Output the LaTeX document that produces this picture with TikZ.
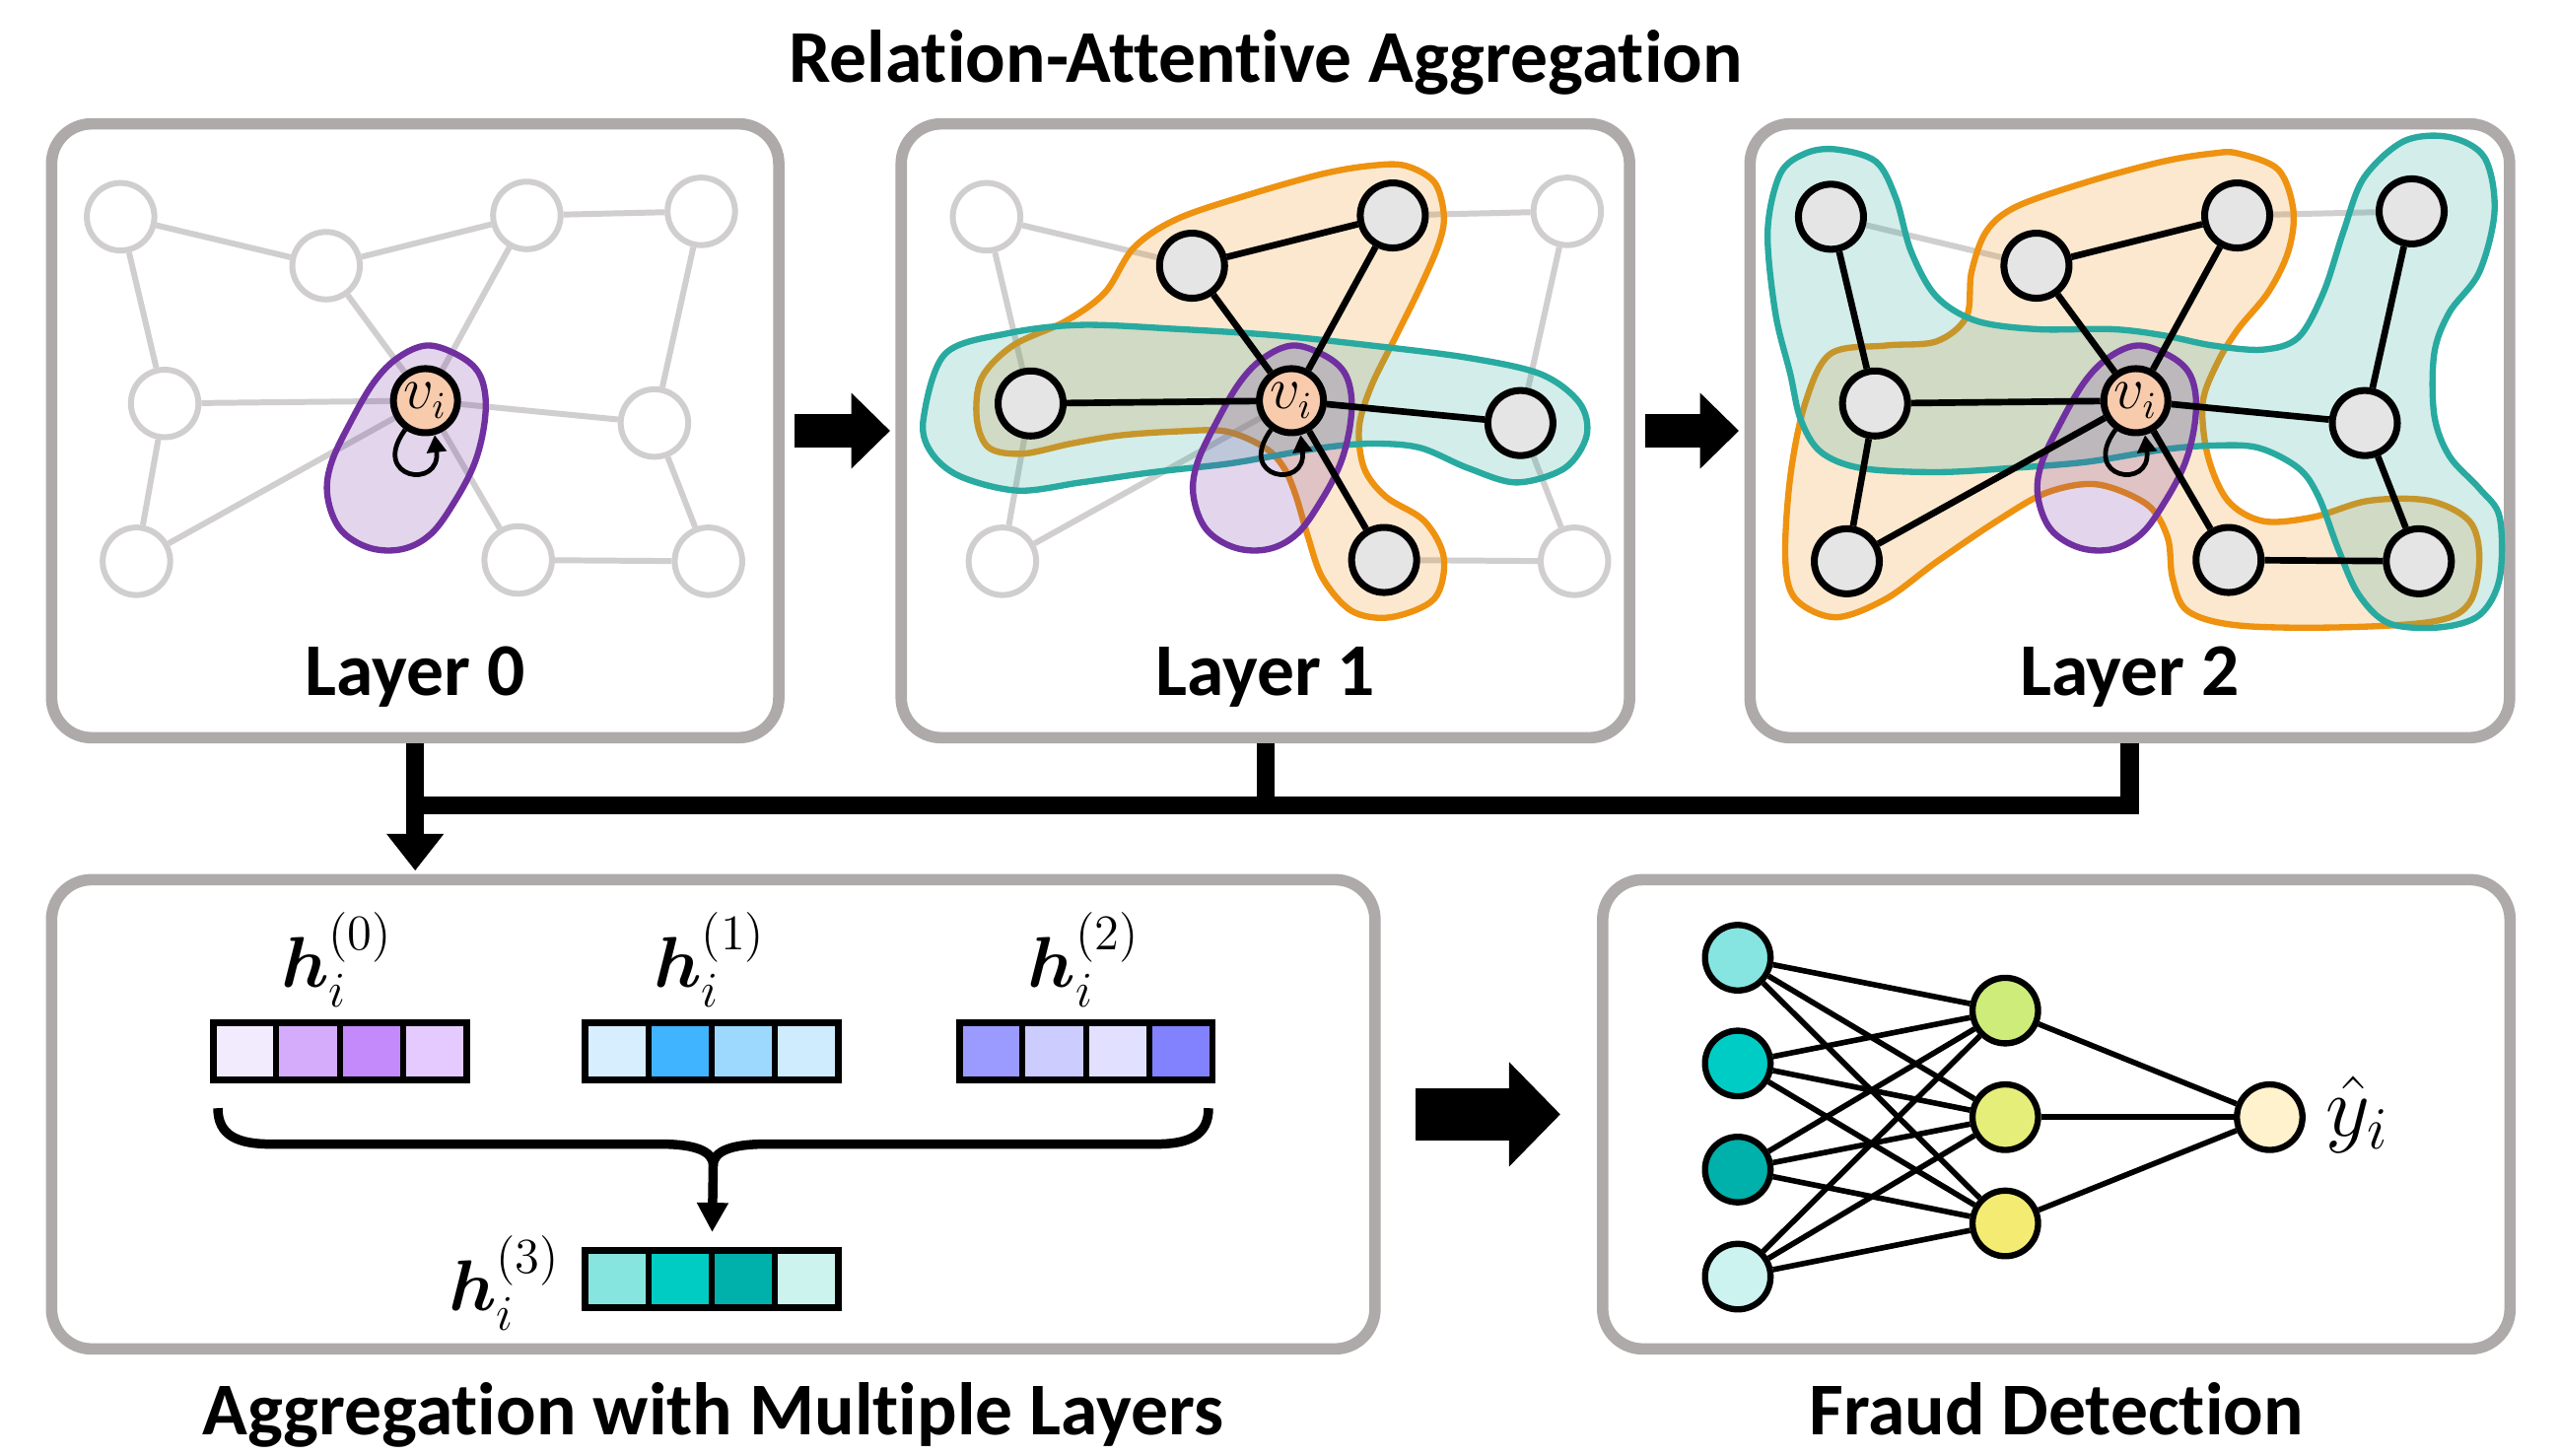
\documentclass[tikz,border=0pt]{standalone}
\usepackage[no-math]{fontspec}
\usepackage{amsmath}
\newfontfamily\headfont[Ligatures=NoCommon]{Carlito}
\usetikzlibrary{arrows.meta,calc}

\pgfdeclarelayer{back}
\pgfdeclarelayer{grayedges}
\pgfdeclarelayer{blobs}
\pgfdeclarelayer{blackedges}
\pgfsetlayers{back,grayedges,blobs,blackedges,main}

\definecolor{panelgray}{RGB}{174,170,170}
\definecolor{lightgr}{RGB}{208,206,206}
\definecolor{nodegray}{RGB}{229,229,229}
\definecolor{peach}{RGB}{248,203,173}
\definecolor{purpleline}{RGB}{112,48,160}
\definecolor{orangeline}{RGB}{238,146,16}
\definecolor{orangefill}{RGB}{240,154,40}
\definecolor{tealline}{RGB}{40,170,160}
\definecolor{tealfill}{RGB}{38,166,154}
% feature vector cells
\definecolor{ha1}{RGB}{242,235,253}\definecolor{ha2}{RGB}{213,171,251}
\definecolor{ha3}{RGB}{196,137,251}\definecolor{ha4}{RGB}{228,202,254}
\definecolor{hb1}{RGB}{214,238,253}\definecolor{hb2}{RGB}{64,180,255}
\definecolor{hb3}{RGB}{157,216,255}\definecolor{hb4}{RGB}{207,235,254}
\definecolor{hc1}{RGB}{155,155,255}\definecolor{hc2}{RGB}{204,204,255}
\definecolor{hc3}{RGB}{225,225,255}\definecolor{hc4}{RGB}{130,130,255}
\definecolor{hd1}{RGB}{135,229,224}\definecolor{hd2}{RGB}{0,204,196}
\definecolor{hd3}{RGB}{0,176,170}\definecolor{hd4}{RGB}{205,243,239}
% classifier neurons
\definecolor{in1}{RGB}{134,229,224}\definecolor{in2}{RGB}{0,204,198}
\definecolor{in3}{RGB}{0,176,170}\definecolor{in4}{RGB}{205,243,240}
\definecolor{hid1}{RGB}{205,236,122}\definecolor{hid2}{RGB}{230,238,122}
\definecolor{hid3}{RGB}{244,236,114}\definecolor{outc}{RGB}{255,242,204}

% a feature vector: name, centre x, centre y, four cell colours
\newcommand\featvec[7]{%
  \node[vecbox] (#1) at (#2,#3) {};
  \begin{pgfonlayer}{blobs}
    \begin{scope}[shift={(#1.center)}]
      \fill[#4] (-77.6,-17.5) rectangle (-38.8,17.5);
      \fill[#5] (-38.8,-17.5) rectangle (0,17.5);
      \fill[#6] (0,-17.5) rectangle (38.8,17.5);
      \fill[#7] (38.8,-17.5) rectangle (77.6,17.5);
      \draw[vecline] (-38.8,-17.5) -- (-38.8,17.5) (0,-17.5) -- (0,17.5)
                     (38.8,-17.5) -- (38.8,17.5);
    \end{scope}
  \end{pgfonlayer}}

% the purple self-relation region around v_i
\newcommand\selfregion{%
  \draw[purpleblob] plot[smooth cycle, tension=0.6] coordinates {
    (261.3,211.7) (278.9,216.7) (292.1,226.7) (297.3,241.7) (296.5,261.7)
    (290.6,284.3) (278.9,306.8) (264.3,326.9) (246.7,336.4) (226.2,335.6)
    (208.6,324.4) (200.7,304.3) (202.8,284.3) (214.5,259.2) (229.1,234.2)
    (243.8,219.2)};}

\begin{document}
\begin{tikzpicture}[x=0.016556cm, y=-0.016556cm,
  panel/.style={draw=panelgray, line width=3.3pt, rounded corners=0.406cm,
    fill=white, inner sep=0, outer sep=0, minimum height=6.227cm},
  lowpanel/.style={panel, minimum height=4.760cm},
  headtext/.style={font=\headfont\bfseries\fontsize{21.5}{24}\selectfont,
    inner sep=0, anchor=base},
  gnode/.style={circle, draw=lightgr, line width=1.7pt, fill=white,
    minimum size=0.685cm, inner sep=0},
  bnode/.style={circle, draw=black, line width=2pt, fill=nodegray,
    minimum size=0.66cm, inner sep=0},
  vinode/.style={circle, draw=black, line width=2pt, fill=peach,
    minimum size=0.65cm, inner sep=0, font=\fontsize{16}{16}\selectfont},
  gedge/.style={draw=lightgr, line width=1.7pt},
  bedge/.style={draw=black, line width=1.9pt},
  selfloop/.style={draw=black, line width=1.35pt,
    -{Triangle[length=5pt,width=5.5pt]}},
  orangeblob/.style={draw=orangeline, line width=1.8pt, fill=orangefill,
    fill opacity=0.22},
  tealblob/.style={draw=tealline, line width=1.8pt, fill=tealfill,
    fill opacity=0.2},
  purpleblob/.style={draw=purpleline, line width=1.8pt, fill=purpleline,
    fill opacity=0.2},
  blockarr/.style={draw=black, line width=9.85pt,
    -{Triangle[length=11.2pt,width=21.2pt]}, shorten <=4.5pt, shorten >=3.2pt},
  bigarr/.style={draw=black, line width=14.9pt,
    -{Triangle[length=14.8pt,width=29.3pt]}, shorten <=11.7pt, shorten >=12.2pt},
  busline/.style={draw=black, line width=5.2pt, line join=miter},
  vecbox/.style={draw=black, line width=1.9pt, minimum width=2.5695cm,
    minimum height=0.5795cm, inner sep=0, outer sep=0},
  vecline/.style={draw=black, line width=1.7pt},
  veclabel/.style={font=\fontsize{20}{20}\selectfont, inner sep=0, anchor=base},
  bracestyle/.style={draw=black, line width=2.7pt},
  nnnode/.style={circle, draw=black, line width=1.8pt, minimum size=0.665cm,
    inner sep=0},
  nnedge/.style={draw=black, line width=1.6pt}]

\useasboundingbox (0,0) rectangle (1568,892);

% ---------- panels ----------
\begin{pgfonlayer}{back}
  \fill[white] (0,0) rectangle (1568,892);
  \node[panel, minimum width=7.377cm] (p1) at (254.4,263.95) {};
  \node[panel, minimum width=7.389cm] (p2) at (775.35,263.95) {};
  \node[panel, minimum width=7.705cm] (p3) at (1305,263.95) {};
  \node[lowpanel, minimum width=13.425cm] (p4) at (437.05,682.75) {};
  \node[lowpanel, minimum width=9.205cm] (p5) at (1260,682.75) {};
\end{pgfonlayer}

% ---------- titles ----------
\node[headtext] (title) at (775.5,50.3) {Relation-Attentive Aggregation};
\node[headtext] (lab0) at (254.4,426) {Layer 0};
\node[headtext] (lab1) at (775.35,426) {Layer 1};
\node[headtext] (lab2) at (1305,426) {Layer 2};
\node[headtext] (labagg) at (437,879) {Aggregation with Multiple Layers};
\node[headtext] (labfd) at (1260,879) {Fraud Detection};

% ---------- layer 0 ----------
\node[gnode] (A1) at (73.9,132.8) {};
\node[gnode] (B1) at (199.8,162.8) {};
\node[gnode] (C1) at (322.8,132.0) {};
\node[gnode] (D1) at (429.7,129.5) {};
\node[gnode] (E1) at (100.9,247.2) {};
\node[vinode] (V1) at (260.7,245.5) {$v_i$};
\node[gnode] (F1) at (401,259.2) {};
\node[gnode] (G1) at (83.6,343.9) {};
\node[gnode] (H1) at (317.5,343.1) {};
\node[gnode] (I1) at (434.1,343.9) {};
\begin{pgfonlayer}{grayedges}
  \draw[gedge] (A1) -- (B1) (B1) -- (C1) (C1) -- (D1) (A1) -- (E1)
    (B1) -- (V1) (C1) -- (V1) (D1) -- (F1) (E1) -- (V1) (E1) -- (G1)
    (G1) -- (V1) (V1) -- (F1) (V1) -- (H1) (F1) -- (I1) (H1) -- (I1);
\end{pgfonlayer}
\begin{pgfonlayer}{blobs}
  \selfregion
\end{pgfonlayer}
\draw[selfloop] (V1.235) .. controls +(-22,30) and +(4,34) .. (V1.-75);

% ---------- layer 1 ----------
\begin{scope}[shift={(530.6,0)}]
  \node[gnode] (A2) at (73.9,132.8) {};
  \node[bnode] (B2) at (199.8,162.8) {};
  \node[bnode] (C2) at (322.8,132.0) {};
  \node[gnode] (D2) at (429.7,129.5) {};
  \node[bnode] (E2) at (100.9,247.2) {};
  \node[vinode] (V2) at (260.7,245.5) {$v_i$};
  \node[bnode] (F2) at (401,259.2) {};
  \node[gnode] (G2) at (83.6,343.9) {};
  \node[bnode] (H2) at (317.5,343.1) {};
  \node[gnode] (I2) at (434.1,343.9) {};
\end{scope}
\begin{pgfonlayer}{grayedges}
  \draw[gedge] (A2) -- (B2) (A2) -- (E2) (C2) -- (D2) (D2) -- (F2)
    (E2) -- (G2) (G2) -- (V2) (F2) -- (I2) (H2) -- (I2);
\end{pgfonlayer}
\begin{pgfonlayer}{blobs}
  \draw[orangeblob] plot[smooth cycle, tension=0.55] coordinates {
    (861.0,101.5) (878.8,111.5) (884.7,131.5) (881.7,149.1) (869.9,176.6)
    (855.0,206.7) (840.2,236.7) (832.8,261.7) (835.8,286.8) (849.1,304.3)
    (872.8,319.3) (884.7,341.9) (878.8,366.9) (852.1,378.2) (828.3,374.4)
    (810.5,354.4) (801.6,329.4) (794.2,304.3) (786.8,286.8) (775.0,274.3)
    (751.2,264.3) (721.6,264.3) (686.0,266.8) (656.3,271.8) (626.6,278.0)
    (605.9,274.3) (598.5,256.7) (601.4,231.7) (620.7,211.7) (653.3,196.6)
    (677.1,179.1) (694.9,151.6) (721.6,134.0) (766.1,119.0) (810.5,106.5)
    (840.2,101.5)};
  \draw[tealblob] plot[smooth cycle, tension=0.55] coordinates {
    (565.8,256.7) (579.2,216.7) (617.8,204.2) (662.2,199.1) (721.6,201.6)
    (780.9,205.4) (840.2,211.7) (899.5,219.2) (944.0,229.2) (967.7,246.7)
    (972.2,266.8) (958.8,286.8) (929.2,295.6) (899.5,286.8) (869.9,274.3)
    (840.2,271.8) (810.5,274.3) (780.9,279.3) (751.2,284.3) (706.7,289.3)
    (662.2,295.6) (623.7,300.6) (588.1,291.8) (570.3,276.8)};
  \begin{scope}[shift={(530.6,0)}]
    \selfregion
  \end{scope}
\end{pgfonlayer}
\begin{pgfonlayer}{blackedges}
  \draw[bedge] (B2) -- (C2) (B2) -- (V2) (C2) -- (V2) (E2) -- (V2)
    (V2) -- (F2) (V2) -- (H2);
\end{pgfonlayer}
\draw[selfloop] (V2.235) .. controls +(-22,30) and +(4,34) .. (V2.-75);

% ---------- layer 2 ----------
\begin{scope}[shift={(1048,0)}]
  \node[bnode] (A3) at (73.9,132.8) {};
  \node[bnode] (B3) at (199.8,162.8) {};
  \node[bnode] (C3) at (322.8,132.0) {};
  \node[bnode] (D3) at (429.7,129.5) {};
  \node[bnode] (E3) at (100.9,247.2) {};
  \node[vinode] (V3) at (260.7,245.5) {$v_i$};
  \node[bnode] (F3) at (401,259.2) {};
  \node[bnode] (G3) at (83.6,343.9) {};
  \node[bnode] (H3) at (317.5,343.1) {};
  \node[bnode] (I3) at (434.1,343.9) {};
\end{scope}
\begin{pgfonlayer}{grayedges}
  \draw[gedge] (A3) -- (B3) (C3) -- (D3);
\end{pgfonlayer}
\begin{pgfonlayer}{blobs}
  \draw[orangeblob] plot[smooth cycle, tension=0.55] coordinates {
    (1371.3,94.0) (1396.0,104.0) (1405.2,129.0) (1402.1,154.1) (1389.8,179.1)
    (1371.3,201.7) (1359.0,221.7) (1349.7,246.7) (1352.8,279.3) (1365.1,306.8)
    (1386.7,319.3) (1417.5,316.8) (1451.4,306.8) (1488.4,306.8) (1513.1,319.3)
    (1519.2,341.9) (1513.1,369.4) (1491.5,380.7) (1432.9,384.4) (1371.3,383.2)
    (1340.5,374.4) (1331.2,354.4) (1328.2,329.4) (1315.8,309.3) (1285.0,296.8)
    (1254.2,301.8) (1223.4,319.3) (1186.4,344.4) (1155.6,366.9) (1124.7,378.2)
    (1100.1,366.9) (1093.9,341.9) (1097.0,291.8) (1106.2,246.7) (1121.7,216.7)
    (1155.6,211.7) (1186.4,209.2) (1204.9,194.1) (1208.0,166.6) (1217.2,141.6)
    (1235.7,126.5) (1278.8,111.5) (1325.1,99.0) (1355.9,94.0)};
  \draw[tealblob] plot[smooth cycle, tension=0.55] coordinates {
    (1124.7,91.5) (1149.4,99.0) (1161.7,121.5) (1171.0,154.1) (1186.4,181.6)
    (1211.0,196.6) (1248.0,201.7) (1294.3,201.7) (1325.1,205.4) (1355.9,211.7)
    (1386.7,214.2) (1408.3,206.7) (1423.7,179.1) (1436.0,141.6) (1448.4,109.0)
    (1473.0,86.5) (1500.8,84.0) (1522.3,96.5) (1528.5,129.0) (1519.2,166.6)
    (1500.7,191.6) (1491.5,216.7) (1491.5,254.2) (1500.7,279.3) (1519.2,299.3)
    (1531.6,316.8) (1531.6,354.4) (1519.2,376.9) (1494.6,384.4) (1463.8,381.9)
    (1445.3,364.4) (1432.9,336.9) (1420.6,304.3) (1408.3,286.8) (1383.6,274.3)
    (1355.9,273.0) (1325.1,275.5) (1278.8,283.0) (1232.6,286.8) (1186.4,289.3)
    (1140.2,286.8) (1115.5,276.8) (1103.2,256.7) (1097.0,229.2) (1087.8,191.6)
    (1083.1,141.6) (1090.8,106.5) (1106.2,94.0)};
  \begin{scope}[shift={(1048,0)}]
    \selfregion
  \end{scope}
\end{pgfonlayer}
\begin{pgfonlayer}{blackedges}
  \draw[bedge] (A3) -- (E3) (E3) -- (G3) (E3) -- (V3) (G3) -- (V3)
    (B3) -- (C3) (B3) -- (V3) (C3) -- (V3) (D3) -- (F3) (V3) -- (F3)
    (F3) -- (I3) (V3) -- (H3) (H3) -- (I3);
\end{pgfonlayer}
\draw[selfloop] (V3.235) .. controls +(-22,30) and +(4,34) .. (V3.-75);

% ---------- arrows between stages ----------
\draw[blockarr] (p1.east) -- (p2.west);
\draw[blockarr] (p2.east) -- (p3.west);
\draw[bigarr] (p4.east) -- (p5.west);

\coordinate (bus) at (0,493.6);
\draw[busline, shorten <=1.6pt] (p3.south) |- (p1.south |- bus);
\draw[busline, shorten <=1.6pt] (p2.south) -- (p2.south |- bus);
\draw[busline, shorten <=1.6pt, shorten >=2.6pt,
  -{Triangle[length=10.6pt,width=15.8pt]}] (p1.south) -- (p1.south |- p4.north);

% ---------- multi-layer aggregation ----------
\featvec{hv0}{208.2}{644}{ha1}{ha2}{ha3}{ha4}
\featvec{hv1}{436.2}{644}{hb1}{hb2}{hb3}{hb4}
\featvec{hv2}{665.4}{644}{hc1}{hc2}{hc3}{hc4}
\featvec{hv3}{436.2}{783.5}{hd1}{hd2}{hd3}{hd4}
\node[veclabel] (lh0) at (206.5,605) {$\boldsymbol{h}_i^{(0)}$};
\node[veclabel] (lh1) at (435,605) {$\boldsymbol{h}_i^{(1)}$};
\node[veclabel] (lh2) at (664,605) {$\boldsymbol{h}_i^{(2)}$};
\node[veclabel, anchor=base east] (lh3) at (344,803) {$\boldsymbol{h}_i^{(3)}$};

\coordinate (braceL) at (133.5,679);
\coordinate (braceR) at (740.5,679);
\coordinate (cusp) at (437,714);
\draw[bracestyle] (braceL) .. controls (133.5,696) and (146,701) .. (166,701)
  -- (405,701) .. controls (425,701) and (437,705) .. (cusp);
\draw[bracestyle] (braceR) .. controls (740.5,696) and (728,701) .. (708,701)
  -- (469,701) .. controls (449,701) and (437,705) .. (cusp);
\draw[bracestyle, shorten >=5.2pt, -{Triangle[length=8.5pt,width=8.6pt]}]
  (cusp) -- (hv3.north);

% ---------- fraud classifier ----------
\node[nnnode, fill=in1] (x1) at (1064.8,586.8) {};
\node[nnnode, fill=in2] (x2) at (1064.8,651.6) {};
\node[nnnode, fill=in3] (x3) at (1064.8,716.6) {};
\node[nnnode, fill=in4] (x4) at (1064.8,782.2) {};
\node[nnnode, fill=hid1] (z1) at (1228.7,619.2) {};
\node[nnnode, fill=hid2] (z2) at (1228.7,684.5) {};
\node[nnnode, fill=hid3] (z3) at (1228.7,749.6) {};
\node[nnnode, fill=outc] (out) at (1390.7,684.5) {};
\node[anchor=west, inner sep=0, font=\fontsize{27}{27}\selectfont] (yhat)
  at (1425,683) {$\hat{y}_i$};
\begin{pgfonlayer}{blackedges}
  \foreach \i in {1,...,4} {
    \foreach \j in {1,2,3} { \draw[nnedge] (x\i) -- (z\j); }
  }
  \foreach \j in {1,2,3} { \draw[nnedge] (z\j) -- (out); }
\end{pgfonlayer}

\end{tikzpicture}
\end{document}
